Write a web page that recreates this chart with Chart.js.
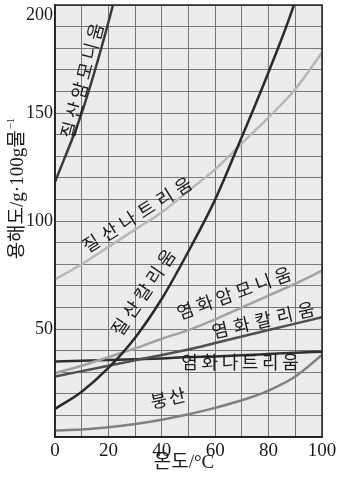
<!DOCTYPE html>
<html>
<head>
<meta charset="utf-8">
<script src="https://cdn.jsdelivr.net/npm/chart.js@4"></script>
<style>
  html, body { margin: 0; background: #fff; }
  #wrap { width: 345px; height: 478px; }
</style>
</head>
<body>
<div id="wrap"><canvas id="chart"></canvas></div>
<script>
// temperatures in °C, solubility in g per 100 g water
const temps = [0, 10, 20, 30, 40, 50, 60, 70, 80, 90, 100];
const ammoniumNitrate  = [118, 150, 192, 242, null, null, null, null, null, null, null];
const potassiumNitrate = [13, 21, 32, 46, 64, 86, 110, 139, 169, 202, 246];
const sodiumNitrate    = [73, 80, 88, 96, 104, 114, 124, 136, 148, 161, 178];
const ammoniumChloride = [29.5, 33, 37, 41, 45.5, 49.5, 54.5, 60, 65.5, 71, 77];
const potassiumChloride = [28, 30.5, 33, 35.5, 38, 40.5, 43.5, 46.5, 49.5, 52.5, 55.5];
const sodiumChloride   = [35, 35.3, 35.6, 36, 36.4, 37, 37.3, 37.8, 38.4, 39, 39.5];
const boricAcid        = [3, 3.5, 4.5, 6, 8, 10.5, 13.5, 17, 21.5, 28, 38];

const seriesNames = ['질산암모니움', '질산칼리움', '질산나트리움', '염화암모니움', '염화칼리움', '염화나트리움', '붕산'];
const seriesValues = [ammoniumNitrate, potassiumNitrate, sodiumNitrate, ammoniumChloride, potassiumChloride, sodiumChloride, boricAcid];
const seriesColors = ['#3a3a3a', '#2a2a2a', '#b8b8b8', '#a2a2a2', '#505050', '#2e2e2e', '#808080'];

const yTickLabels = [50, 100, 150, 200];
const xTickLabels = [0, 20, 40, 60, 80, 100];

// where each curve name sits (data coords of text centre), its angle and letter gap
const curveLabels = [
  { text: '질산암모니움', x: 10.1, y: 165, angle: -75, gap: 3.8 },
  { text: '질산나트리움', x: 30.7, y: 103, angle: -32, gap: 5.2 },
  { text: '질산칼리움', x: 33, y: 67, angle: -56, gap: 4.2 },
  { text: '염화암모니움', x: 67, y: 66.7, angle: -20, gap: 4.2 },
  { text: '염화칼리움', x: 77.9, y: 54.2, angle: -13, gap: 5.5 },
  { text: '염화나트리움', x: 69.3, y: 34.7, angle: 0, gap: 3.6 },
  { text: '붕산', x: 42.3, y: 18, angle: -13, gap: 2 }
];

const serif = "'Liberation Serif', 'Noto Sans CJK KR', serif";
const korean = "'Noto Sans CJK KR', sans-serif";

function drawSpaced(ctx, text, gap) {
  const chars = [...text];
  const widths = chars.map(c => ctx.measureText(c).width);
  const total = widths.reduce((a, b) => a + b, 0) + gap * (chars.length - 1);
  let x = -total / 2;
  chars.forEach((c, i) => {
    ctx.fillText(c, x, 0);
    x += widths[i] + gap;
  });
}

const paperPlugin = {
  id: 'paper',
  beforeDraw(chart) {
    const { ctx, chartArea: a } = chart;
    ctx.save();
    ctx.fillStyle = '#ececec';
    ctx.fillRect(a.left, a.top, a.right - a.left, a.bottom - a.top);
    ctx.restore();
  },
  afterDatasetsDraw(chart) {
    const { ctx, scales } = chart;
    ctx.save();
    ctx.fillStyle = '#1a1a1a';
    ctx.font = '18px ' + korean;
    ctx.textBaseline = 'middle';
    ctx.textAlign = 'left';
    curveLabels.forEach(l => {
      ctx.save();
      ctx.translate(scales.x.getPixelForValue(l.x), scales.y.getPixelForValue(l.y));
      ctx.rotate(l.angle * Math.PI / 180);
      drawSpaced(ctx, l.text, l.gap);
      ctx.restore();
    });
    ctx.restore();
  },
  afterDraw(chart) {
    const { ctx, chartArea: a, scales } = chart;
    ctx.save();
    ctx.strokeStyle = '#222';
    ctx.lineWidth = 1.5;
    ctx.strokeRect(a.left, a.top, a.right - a.left, a.bottom - a.top);

    // top tick label sits just below its line so it is not cut off
    const topTick = yTickLabels[yTickLabels.length - 1];
    ctx.fillStyle = '#1a1a1a';
    ctx.font = '18px ' + serif;
    ctx.textAlign = 'right';
    ctx.textBaseline = 'top';
    ctx.fillText(String(topTick), a.left - 2, scales.y.getPixelForValue(topTick) + 1);

    // axis titles
    ctx.textBaseline = 'middle';
    ctx.font = '19px ' + serif;
    ctx.textAlign = 'center';
    ctx.fillText('온도/°C', 184, 463);

    ctx.translate(18, 189);
    ctx.rotate(-Math.PI / 2);
    const main = '용해도/g·100g물';
    const mw = ctx.measureText(main).width;
    ctx.font = '11px ' + serif;
    const sw = ctx.measureText('−1').width;
    const start = -(mw + sw) / 2;
    ctx.font = '19px ' + serif;
    ctx.textAlign = 'left';
    ctx.fillText(main, start, 0);
    ctx.font = '11px ' + serif;
    ctx.fillText('−1', start + mw + 1, -7);
    ctx.restore();
  }
};

new Chart(document.getElementById('chart'), {
  type: 'line',
  data: {
    datasets: seriesNames.map((name, i) => ({
      label: name,
      data: temps.map((t, j) => ({ x: t, y: seriesValues[i][j] })),
      borderColor: seriesColors[i],
      borderWidth: 2.5,
      pointRadius: 0,
      cubicInterpolationMode: 'monotone',
      fill: false,
      clip: 0
    }))
  },
  options: {
    responsive: true,
    maintainAspectRatio: false,
    devicePixelRatio: 1,
    animation: false,
    layout: { padding: { top: 5, right: 23, left: 0, bottom: 0 } },
    plugins: {
      legend: { display: false },
      tooltip: { enabled: false }
    },
    scales: {
      x: {
        type: 'linear',
        min: 0,
        max: 100,
        afterFit(scale) { scale.height = 41; scale.paddingLeft = 0; scale.paddingRight = 0; },
        ticks: {
          stepSize: 10,
          autoSkip: false,
          maxRotation: 0,
          padding: 3,
          color: '#1a1a1a',
          font: { family: serif, size: 19 },
          callback: v => (xTickLabels.includes(v) ? v : '')
        },
        grid: { color: '#777', lineWidth: 1, drawTicks: false },
        border: { color: '#222', width: 1.5 }
      },
      y: {
        min: 0,
        max: 200,
        afterFit(scale) { scale.width = 55; scale.paddingTop = 0; scale.paddingBottom = 0; },
        ticks: {
          stepSize: 10,
          autoSkip: false,
          padding: 2,
          color: '#1a1a1a',
          font: { family: serif, size: 18 },
          // the top label is drawn by the plugin
          callback: v => (yTickLabels.includes(v) && v !== yTickLabels[yTickLabels.length - 1] ? v : '')
        },
        grid: { color: '#777', lineWidth: 1, drawTicks: false },
        border: { color: '#222', width: 1.5 }
      }
    }
  },
  plugins: [paperPlugin]
});
</script>
</body>
</html>
